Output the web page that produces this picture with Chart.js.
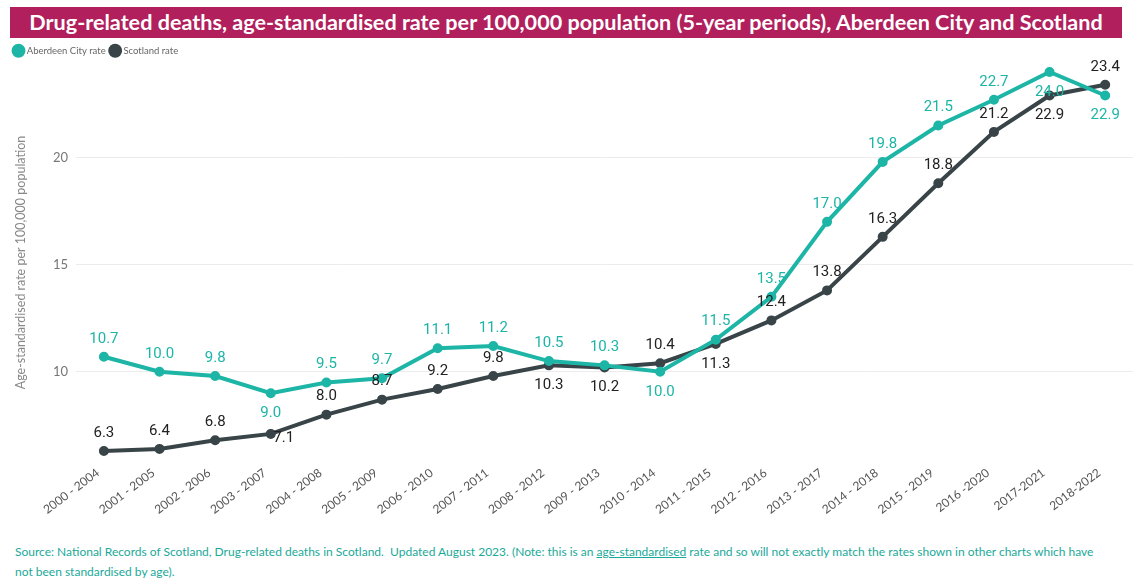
<!DOCTYPE html>
<html>
<head>
<meta charset="utf-8">
<script src="https://cdn.jsdelivr.net/npm/chart.js@4.4.0/dist/chart.umd.min.js"></script>
<style>
  body { margin: 0; background: #fff; width: 1133px; height: 581px; overflow: hidden; font-family: Lato, sans-serif; }
  #title { position: absolute; left: 10px; top: 7px; width: 1112px; height: 31px; background: #b11f5c; color: #fff;
           font: bold 21.6px Lato, sans-serif; line-height: 31px; text-align: center; }
  #wrap { position: absolute; left: 0; top: 40px; width: 1133px; height: 475px; }
  #note { position: absolute; left: 15px; top: 542px; width: 1098px; color: #1aa999; font: 12px Lato, sans-serif; line-height: 20px; }
  #note u { text-decoration: underline; }
</style>
</head>
<body>
<div id="title">Drug-related deaths, age-standardised rate per 100,000 population (5-year periods), Aberdeen City and Scotland</div>
<div id="wrap"><canvas id="rateChart"></canvas></div>
<div id="note">Source: National Records of Scotland, Drug-related deaths in Scotland.&nbsp; Updated August 2023. (Note: this is an <u>age-standardised</u> rate and so will not exactly match the rates shown in other charts which have not been standardised by age).</div>
<script>
var periods = ['2000 - 2004', '2001 - 2005', '2002 - 2006', '2003 - 2007', '2004 - 2008', '2005 - 2009', '2006 - 2010',
  '2007 - 2011', '2008 - 2012', '2009 - 2013', '2010 - 2014', '2011 - 2015', '2012 - 2016', '2013 - 2017',
  '2014 - 2018', '2015 - 2019', '2016 -2020', '2017-2021', '2018-2022'];
var aberdeenRate = [10.7, 10.0, 9.8, 9.0, 9.5, 9.7, 11.1, 11.2, 10.5, 10.3, 10.0, 11.5, 13.5, 17.0, 19.8, 21.5, 22.7, 24.0, 22.9];
var scotlandRate = [6.3, 6.4, 6.8, 7.1, 8.0, 8.7, 9.2, 9.8, 10.3, 10.2, 10.4, 11.3, 12.4, 13.8, 16.3, 18.8, 21.2, 22.9, 23.4];
var yTicks = [10, 15, 20];

// where each value label sits: a = above, b = below, r = right
var aberdeenLabelPos = ['a','a','a','b','a','a','a','a','a','a','b','a','a','a','a','a','a','b','b'];
var scotlandLabelPos = ['a','a','a','r','a','a','a','a','b','b','a','b','a','a','a','a','a','b','a'];

var teal = '#1db5a6';
var dark = '#384447';

// simple value labels, no datalabels plugin available
var valueLabels = {
  id: 'valueLabels',
  afterDatasetsDraw: function (chart) {
    var ctx = chart.ctx;
    ctx.save();
    ctx.font = '15px Roboto';
    ctx.textAlign = 'center';
    ctx.textBaseline = 'middle';
    chart.data.datasets.forEach(function (ds, i) {
      var meta = chart.getDatasetMeta(i);
      ctx.fillStyle = ds.labelColor;
      meta.data.forEach(function (pt, j) {
        var pos = ds.labelPos[j];
        var x = pt.x, y = pt.y;
        if (pos === 'a') y -= 18;
        else if (pos === 'b') y += 20;
        else { x += 13; y += 4; }
        ctx.fillText(ds.data[j].toFixed(1), x, y);
      });
    });
    ctx.restore();
  }
};

var data = {
  labels: periods,
  datasets: [
    {
      label: 'Aberdeen City rate',
      data: aberdeenRate,
      borderColor: teal,
      backgroundColor: teal,
      borderWidth: 4,
      pointRadius: 3,
      labelColor: '#1db5a6',
      labelPos: aberdeenLabelPos,
    },
    {
      label: 'Scotland rate',
      data: scotlandRate,
      borderColor: dark,
      backgroundColor: dark,
      borderWidth: 4,
      pointRadius: 3,
      labelColor: '#222222',
      labelPos: scotlandLabelPos,
    },
  ],
};

var config = {
  type: 'line',
  data: data,
  plugins: [valueLabels],
  options: {
    responsive: true,
    maintainAspectRatio: false,
    animation: false,
    layout: { autoPadding: false, padding: { left: 9, right: 0, top: 0, bottom: 0 } },
    plugins: {
      legend: {
        align: 'start',
        labels: {
          usePointStyle: true,
          pointStyle: 'circle',
          boxWidth: 7,
          boxHeight: 7,
          padding: 6,
          color: '#666',
          font: { family: 'Lato', size: 9.5 },
        },
      },
      tooltip: { enabled: false },
    },
    scales: {
      x: {
        offset: true,
        grid: { display: false },
        border: { display: false },
        afterFit: function (scale) { scale.paddingRight = 0; },
        ticks: {
          color: '#555',
          font: { family: 'Lato', size: 12 },
          minRotation: 37,
          maxRotation: 37,
          labelOffset: -6,
          padding: -2,
          autoSkip: false,
        },
      },
      y: {
        min: 5.9,
        max: 24.3,
        afterFit: function (scale) { scale.width += 13; },
        afterBuildTicks: function (axis) {
          axis.ticks = yTicks.map(function (v) { return { value: v }; });
        },
        grid: { color: '#ececec', drawTicks: false },
        border: { display: false },
        ticks: { color: '#777', font: { family: 'Lato', size: 13 }, padding: 8 },
        title: {
          display: true,
          text: 'Age-standardised rate per 100,000 population',
          color: '#888',
          font: { family: 'Lato', size: 12.5 },
        },
      },
    },
  },
};

var myChart = new Chart(document.getElementById('rateChart'), config);
</script>
</body>
</html>
